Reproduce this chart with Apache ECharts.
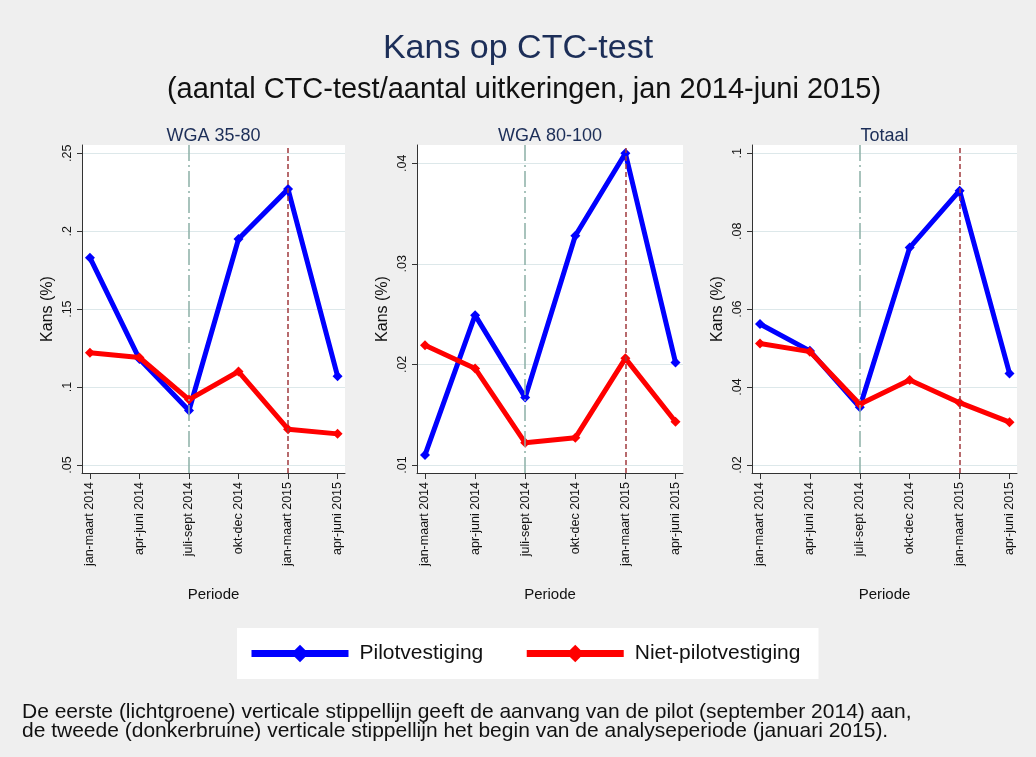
<!DOCTYPE html>
<html>
<head>
<meta charset="utf-8">
<script src="https://cdn.jsdelivr.net/npm/echarts@6/dist/echarts.min.js"></script>
<style>
  html, body { margin: 0; padding: 0; background: #efefef; }
  #chart { width: 1036px; height: 757px; }
</style>
</head>
<body>
<div id="chart"></div>
<script>
// periods on the x axis
var periods = ['jan-maart 2014', 'apr-juni 2014', 'juli-sept 2014', 'okt-dec 2014', 'jan-maart 2015', 'apr-juni 2015'];

// WGA 35-80
var pilot1 = [0.183, 0.118, 0.085, 0.195, 0.227, 0.107];
var niet1 = [0.122, 0.119, 0.092, 0.110, 0.073, 0.070];
// WGA 80-100
var pilot2 = [0.0110, 0.0249, 0.0167, 0.0328, 0.0410, 0.0202];
var niet2 = [0.0219, 0.0196, 0.0122, 0.0127, 0.0206, 0.0143];
// Totaal
var pilot3 = [0.0562, 0.0493, 0.0348, 0.0758, 0.0904, 0.0435];
var niet3 = [0.0512, 0.0491, 0.0356, 0.0418, 0.0360, 0.0310];

var yTicks1 = [0.05, 0.1, 0.15, 0.2, 0.25];
var yTicks2 = [0.01, 0.02, 0.03, 0.04];
var yTicks3 = [0.02, 0.04, 0.06, 0.08, 0.1];

var panelTitles = ['WGA 35-80', 'WGA 80-100', 'Totaal'];
var seriesNames = ['Pilotvestiging', 'Niet-pilotvestiging'];

var FONT = '"Liberation Sans", Arial, sans-serif';
var xIdx = periods.map(function (p, i) { return i; });

function pts(arr) {
  return arr.map(function (v, i) { return [i, v]; });
}
function fmtY(v) {
  var s = String(+v.toFixed(4));
  return s.replace(/^0\./, '.');
}

var panels = [
  { left: 82, width: 263, min: 0.0449, max: 0.2553, ticks: yTicks1, p: pilot1, n: niet1 },
  { left: 417, width: 266, min: 0.0092, max: 0.04182, ticks: yTicks2, p: pilot2, n: niet2 },
  { left: 752, width: 265, min: 0.01795, max: 0.10213, ticks: yTicks3, p: pilot3, n: niet3 }
];

var grids = [], xAxes = [], yAxes = [], series = [], titles = [];

titles.push({
  text: 'Kans op CTC-test', left: 513, top: 27, textAlign: 'center',
  textStyle: { fontFamily: FONT, fontSize: 34, fontWeight: 'normal', color: '#1c2e58' }
});
titles.push({
  text: '(aantal CTC-test/aantal uitkeringen, jan 2014-juni 2015)', left: 519, top: 70, textAlign: 'center',
  textStyle: { fontFamily: FONT, fontSize: 29, fontWeight: 'normal', color: '#111' }
});

panels.forEach(function (pn, k) {
  grids.push({
    left: pn.left, width: pn.width, top: 145, height: 328,
    show: true, backgroundColor: '#ffffff', borderWidth: 0
  });
  titles.push({
    text: panelTitles[k], left: pn.left + pn.width / 2 - 5, top: 122, textAlign: 'center',
    textStyle: { fontFamily: FONT, fontSize: 18, fontWeight: 'normal', color: '#1c2e58' }
  });
  xAxes.push({
    type: 'value', gridIndex: k, min: -0.16, max: 5.15,
    name: 'Periode', nameLocation: 'middle', nameGap: 114, nameMoveOverlap: false,
    nameTextStyle: { fontFamily: FONT, fontSize: 15, color: '#111' },
    axisLine: { show: true, onZero: false, lineStyle: { color: '#333', width: 1 } },
    axisTick: { show: true, length: 6, customValues: xIdx, lineStyle: { color: '#333' } },
    axisLabel: {
      customValues: xIdx, rotate: 90, margin: 9,
      fontFamily: FONT, fontSize: 12.5, color: '#111',
      formatter: function (v) { return periods[Math.round(v)]; }
    },
    splitLine: { show: false }
  });
  yAxes.push({
    type: 'value', gridIndex: k, min: pn.min, max: pn.max,
    name: 'Kans (%)', nameLocation: 'middle', nameGap: 26, nameMoveOverlap: false,
    nameTextStyle: { fontFamily: FONT, fontSize: 16, color: '#111' },
    axisLine: { show: true, onZero: false, lineStyle: { color: '#333', width: 1 } },
    axisTick: { show: true, length: 5, customValues: pn.ticks, lineStyle: { color: '#333' } },
    axisLabel: {
      customValues: pn.ticks, rotate: 90, margin: 8,
      fontFamily: FONT, fontSize: 12.5, color: '#111',
      formatter: fmtY
    },
    splitLine: { show: true, customValues: pn.ticks, lineStyle: { color: '#dde8ea', width: 1 } }
  });
  series.push({
    name: seriesNames[0], type: 'line', xAxisIndex: k, yAxisIndex: k,
    data: pts(pn.p), symbol: 'diamond', symbolSize: 10,
    lineStyle: { color: '#0000ff', width: 5 }, itemStyle: { color: '#0000ff' },
    z: 3,
    markLine: {
      silent: true, symbol: 'none', label: { show: false },
      data: [
        { xAxis: 2, lineStyle: { color: '#8cb0a6', width: 1.5, type: [16, 4, 2, 4] } },
        { xAxis: 4, lineStyle: { color: '#a03a3e', width: 1.5, type: [5, 3] } }
      ]
    }
  });
  series.push({
    name: seriesNames[1], type: 'line', xAxisIndex: k, yAxisIndex: k,
    data: pts(pn.n), symbol: 'diamond', symbolSize: 10,
    lineStyle: { color: '#ff0000', width: 5 }, itemStyle: { color: '#ff0000' },
    z: 4
  });
});

var chart = echarts.init(document.getElementById('chart'), null, { renderer: 'canvas' });
chart.setOption({
  backgroundColor: '#efefef',
  animation: false,
  title: titles,
  grid: grids,
  xAxis: xAxes,
  yAxis: yAxes,
  legend: {
    data: seriesNames, left: 237, top: 628,
    backgroundColor: '#ffffff', padding: [15, 18, 15, 11],
    itemWidth: 97, itemHeight: 22, itemGap: 40,
    lineStyle: { width: 7 },
    textStyle: { fontFamily: FONT, fontSize: 21, color: '#111', padding: [0, 0, 0, 6] }
  },
  graphic: [{
    type: 'text', left: 22, top: 702,
    style: {
      text: 'De eerste (lichtgroene) verticale stippellijn geeft de aanvang van de pilot (september 2014) aan,\nde tweede (donkerbruine) verticale stippellijn het begin van de analyseperiode (januari 2015).',
      fontFamily: FONT, fontSize: 21, lineHeight: 19, fill: '#111'
    }
  }],
  series: series
});
</script>
</body>
</html>
